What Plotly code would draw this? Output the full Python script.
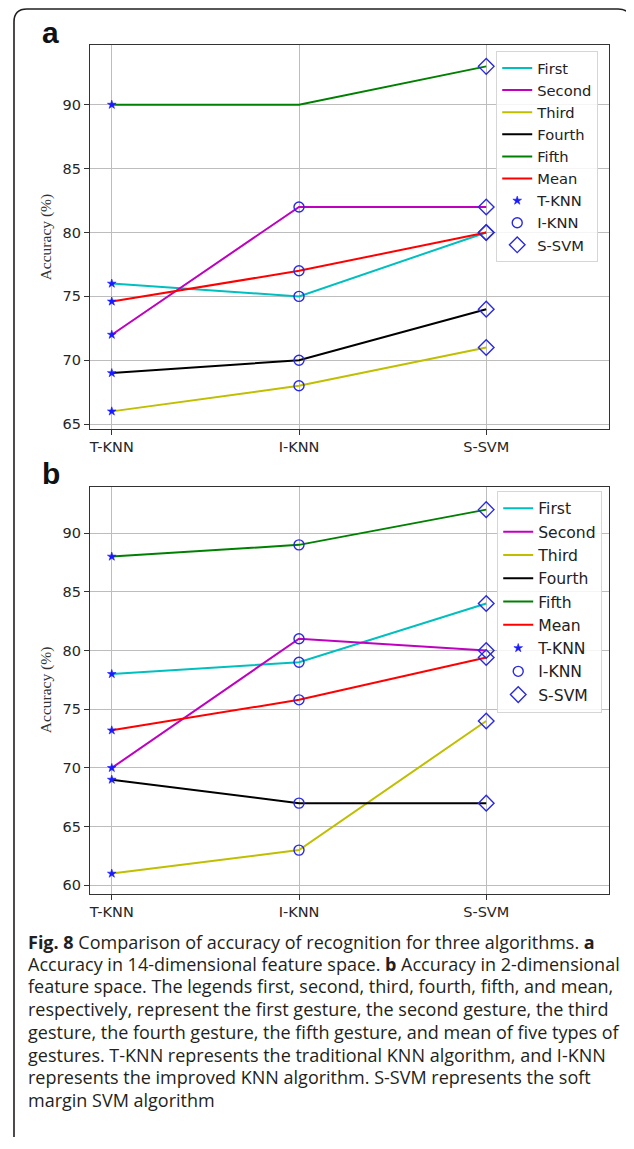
import plotly.graph_objects as go

# page body has an 8px margin; the figure is sized to fill the rest of the window
OFF = 8
W, H = 634 - OFF, 1149 - OFF

categories = ["T-KNN", "I-KNN", "S-SVM"]
series_names = ["First", "Second", "Third", "Fourth", "Fifth", "Mean"]
series_colors = ["#00bfbf", "#bf00bf", "#bfbf00", "#000000", "#008000", "#ff0000"]

# Panel a: 14-dimensional feature space
a_first = [76, 75, 80]
a_second = [72, 82, 82]
a_third = [66, 68, 71]
a_fourth = [69, 70, 74]
a_fifth = [90, 90, 93]
a_mean = [74.6, 77, 80]

# Panel b: 2-dimensional feature space
b_first = [78, 79, 84]
b_second = [70, 81, 80]
b_third = [61, 63, 74]
b_fourth = [69, 67, 67]
b_fifth = [88, 89, 92]
b_mean = [73.2, 75.8, 79.4]

# algorithm markers (values at each algorithm position)
a_tknn = [76, 72, 66, 69, 90, 74.6]
a_iknn = [75, 82, 68, 70, 77]
a_ssvm = [80, 82, 71, 74, 93, 80]
b_tknn = [78, 70, 61, 69, 88, 73.2]
b_iknn = [79, 81, 63, 67, 89, 75.8]
b_ssvm = [84, 80, 74, 67, 92, 79.4]

marker_names = ["T-KNN", "I-KNN", "S-SVM"]

caption_lines = [
    "<b>Fig. 8</b> Comparison of accuracy of recognition for three algorithms. <b>a</b>",
    "Accuracy in 14-dimensional feature space. <b>b</b> Accuracy in 2-dimensional",
    "feature space. The legends first, second, third, fourth, fifth, and mean,",
    "respectively, represent the first gesture, the second gesture, the third",
    "gesture, the fourth gesture, the fifth gesture, and mean of five types of",
    "gestures. T-KNN represents the traditional KNN algorithm, and I-KNN",
    "represents the improved KNN algorithm. S-SVM represents the soft",
    "margin SVM algorithm",
]


def px(x):
    return (x - OFF) / W


def py(y):
    return 1 - (y - OFF) / H


fig = go.Figure()

panels = [
    dict(series=[a_first, a_second, a_third, a_fourth, a_fifth, a_mean],
         marks=[a_tknn, a_iknn, a_ssvm], xa="x", ya="y", legend="legend"),
    dict(series=[b_first, b_second, b_third, b_fourth, b_fifth, b_mean],
         marks=[b_tknn, b_iknn, b_ssvm], xa="x2", ya="y2", legend="legend2"),
]

symbols = [
    dict(symbol="star", size=6.5, color="#1a1aff", line=dict(color="#1a1aff", width=0.6)),
    dict(symbol="circle-open", size=10, color="#2a2ae0", line=dict(width=1.4)),
    dict(symbol="diamond-open", size=12, color="#2a2ae0", line=dict(width=1.4)),
]

for p in panels:
    for name, color, vals in zip(series_names, series_colors, p["series"]):
        fig.add_trace(go.Scatter(
            x=categories, y=vals, mode="lines", name=name,
            line=dict(color=color, width=2),
            xaxis=p["xa"], yaxis=p["ya"], legend=p["legend"],
        ))
    for k, (mname, vals) in enumerate(zip(marker_names, p["marks"])):
        fig.add_trace(go.Scatter(
            x=[categories[k]] * len(vals), y=vals, mode="markers", name=mname,
            marker=symbols[k],
            xaxis=p["xa"], yaxis=p["ya"], legend=p["legend"],
        ))

tickfont = dict(family="DejaVu Sans", size=14.5, color="#262626")
axis_common = dict(
    showgrid=True, gridcolor="#bdbdbd", gridwidth=1,
    showline=True, linecolor="#333333", linewidth=1.2, mirror=True,
    ticks="outside", ticklen=5, tickcolor="#333333", tickwidth=1,
    tickfont=tickfont, zeroline=False,
)

xdom = [px(89), px(609)]
fig.update_layout(
    width=W, height=H, autosize=False,
    margin=dict(l=0, r=0, t=0, b=0),
    paper_bgcolor="white", plot_bgcolor="white",
    showlegend=True,
    xaxis=dict(domain=xdom, anchor="y", type="category",
               range=[-0.117, 2.656], **axis_common),
    yaxis=dict(domain=[py(430), py(45)], anchor="x",
               range=[64.63, 94.68], tick0=0, dtick=5, **axis_common),
    xaxis2=dict(domain=xdom, anchor="y2", type="category",
                range=[-0.117, 2.656], **axis_common),
    yaxis2=dict(domain=[py(896), py(488)], anchor="x2",
                range=[59.29, 93.95], tick0=0, dtick=5, **axis_common),
    legend=dict(x=px(496), y=py(51), xanchor="left", yanchor="top",
                bgcolor="rgba(255,255,255,0.85)", bordercolor="#d6d6d6",
                borderwidth=1, font=dict(family="DejaVu Sans", size=14.7, color="#222222")),
    legend2=dict(x=px(497), y=py(492), xanchor="left", yanchor="top",
                 bgcolor="rgba(255,255,255,0.85)", bordercolor="#d6d6d6",
                 borderwidth=1, font=dict(family="DejaVu Sans", size=15.6, color="#222222")),
)

annotations = []
# panel labels
for lab, yc in [("a", 33), ("b", 475)]:
    annotations.append(dict(
        text="<b>%s</b>" % lab, x=px(39), y=py(yc), xref="paper", yref="paper",
        xanchor="left", yanchor="middle", showarrow=False,
        font=dict(family="Liberation Sans", size=30, color="#111111"),
    ))
# y-axis titles
for yc in [238, 692]:
    annotations.append(dict(
        text="Accuracy (%)", x=px(45), y=py(yc), xref="paper", yref="paper",
        xanchor="center", yanchor="middle", showarrow=False, textangle=-90,
        font=dict(family="Liberation Serif", size=15.5, color="#333333"),
    ))
# caption
cap_y = [944, 966.5, 989, 1012, 1035, 1057.5, 1080, 1103]
for line, yc in zip(caption_lines, cap_y):
    annotations.append(dict(
        text=line, x=px(25), y=py(yc), xref="paper", yref="paper",
        xanchor="left", yanchor="middle", showarrow=False,
        font=dict(family="Open Sans", size=18, color="#231f20"),
    ))
fig.update_layout(annotations=annotations)


# figure frame (top and left border with rounded corners)
def P(x, y):
    return "%.5f,%.5f" % (px(x), py(y))


frame_path = ("M " + P(13, 1140) + " L " + P(13, 22) + " Q " + P(13, 9) + " " + P(26, 9)
              + " L " + P(618, 9) + " Q " + P(631, 9) + " " + P(631, 22))
fig.add_shape(type="path", path=frame_path, xref="paper", yref="paper",
              line=dict(color="#231f20", width=1.6))

fig.write_html("out.html")
